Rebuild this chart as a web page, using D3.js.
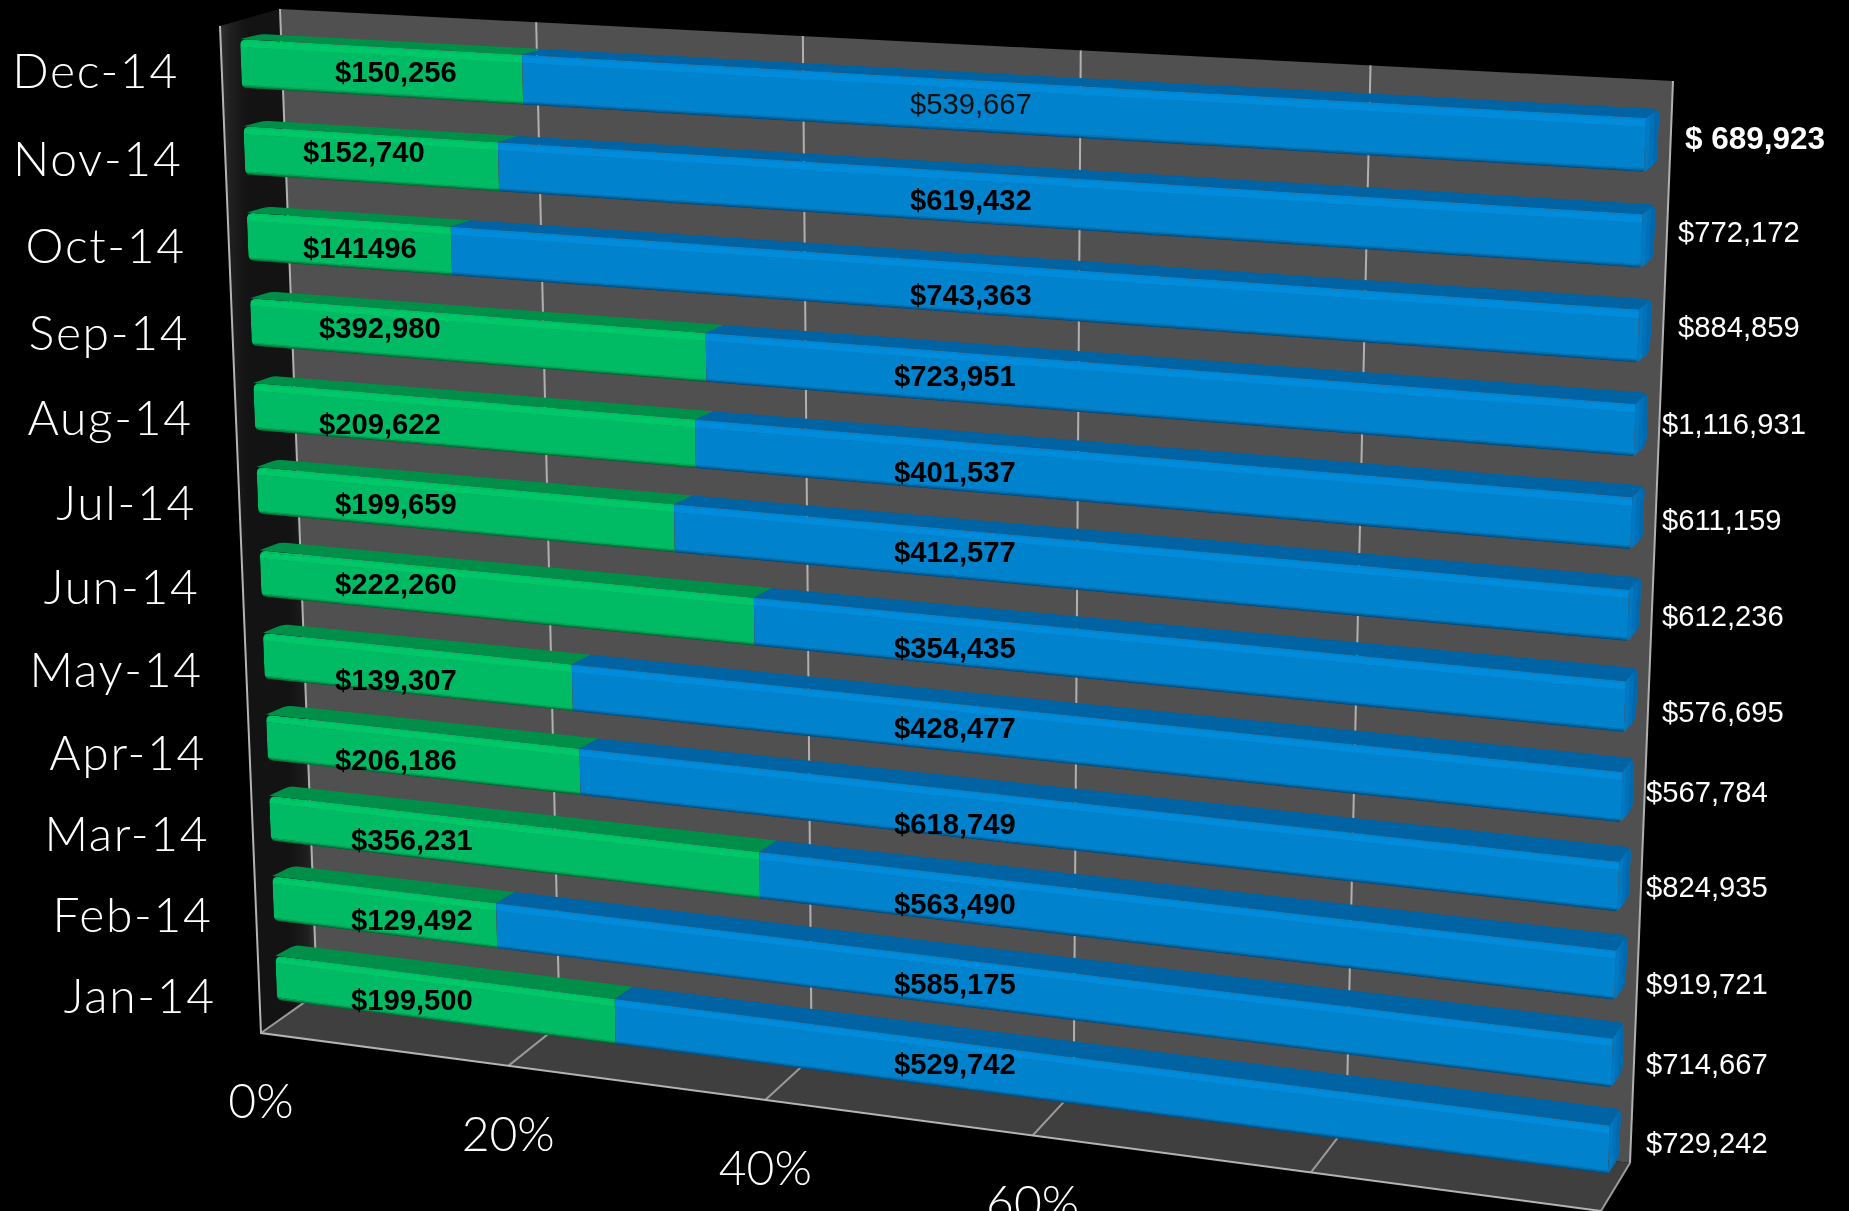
<!DOCTYPE html>
<html>
<head>
<meta charset="utf-8">
<title>Monthly split</title>
<script src="https://cdn.jsdelivr.net/npm/d3@7"></script>
<style>
    html, body { margin: 0; padding: 0; background: #000; overflow: hidden; }
    .category, .tick-label { font-family: "Lato", sans-serif; font-weight: 300; fill: #fff; }
    .value { font-family: "Liberation Sans", Arial, sans-serif; font-size: 29.2px; }
</style>
</head>
<body>
<div id="chart"></div>
<script>
// Values, top row first
const months = ["Dec-14", "Nov-14", "Oct-14", "Sep-14", "Aug-14", "Jul-14", "Jun-14", "May-14", "Apr-14", "Mar-14", "Feb-14", "Jan-14"];
const greenValues = [150256, 152740, 141496, 392980, 209622, 199659, 222260, 139307, 206186, 356231, 129492, 199500];
const blueValues = [539667, 619432, 743363, 723951, 401537, 412577, 354435, 428477, 618749, 563490, 585175, 529742];
const totalValues = [689923, 772172, 884859, 1116931, 611159, 612236, 576695, 567784, 824935, 919721, 714667, 729242];
const percentTicks = [0, 20, 40, 60];
const gridTicks = [0, 20, 40, 60, 80, 100];

// The value labels were hand placed in the original, so they sit on their own little layout
const greenLabelLeft = [335, 303, 303, 319, 319, 335, 335, 335, 335, 351, 351, 351];
const greenLabelY = [82, 162, 258, 338, 434, 514, 594, 690, 770, 850, 930, 1010];
const blueLabelLeft = [910, 910, 910, 894, 894, 894, 894, 894, 894, 894, 894, 894];
const blueLabelY = [114, 210, 305, 386, 482, 562, 658, 738, 834, 914, 994, 1074];
const totalLabelLeft = [1685, 1678, 1678, 1662, 1662, 1662, 1662, 1646, 1646, 1646, 1646, 1646];
const totalLabelY = [149, 242, 337, 434, 530, 626, 722, 802, 897, 994, 1074, 1153];

// Corners of the 3D box as they land on screen: [top left, top right, bottom right, bottom left]
const wallCorners = [[280, 9], [1673, 81], [1630, 1163], [317, 994]];
const floorCorners = [[317, 993.4], [1630, 1163], [1601, 1211], [261, 1033]];
const sideCorners = [[220, 26], [280, 9], [317, 994], [261, 1033]];
const barFrontCorners = [[240, 39], [1646, 118], [1608, 1174], [277, 1000]];
const barBackCorners = [[261, 34], [1659, 109], [1619, 1157], [297, 989]];

// Maps the unit square onto a four sided shape, so straight lines stay straight
function perspective(c) {
    let [x0, y0] = c[0], [x1, y1] = c[1], [x2, y2] = c[2], [x3, y3] = c[3];
    let dx1 = x1 - x2, dx2 = x3 - x2, sx = x0 - x1 + x2 - x3;
    let dy1 = y1 - y2, dy2 = y3 - y2, sy = y0 - y1 + y2 - y3;
    let det = dx1 * dy2 - dx2 * dy1;
    let g = (sx * dy2 - dx2 * sy) / det;
    let h = (dx1 * sy - sx * dy1) / det;
    let a = x1 - x0 + g * x1, b = x3 - x0 + h * x3;
    let d = y1 - y0 + g * y1, e = y3 - y0 + h * y3;
    return (u, v) => {
        let w = g * u + h * v + 1;
        return [(a * u + b * v + x0) / w, (d * u + e * v + y0) / w];
    };
}

function mix(p, q, t) {
    return [p[0] + (q[0] - p[0]) * t, p[1] + (q[1] - p[1]) * t];
}

// Closed path through the points, with each corner cut to its own radius
function rounded(points, radii) {
    let path = d3.path();
    points.forEach((p, i) => {
        let prev = points[(i + points.length - 1) % points.length];
        let next = points[(i + 1) % points.length];
        let r = radii[i];
        let a = mix(p, prev, r / Math.hypot(prev[0] - p[0], prev[1] - p[1]));
        let b = mix(p, next, r / Math.hypot(next[0] - p[0], next[1] - p[1]));
        if (i === 0) path.moveTo(a[0], a[1]); else path.lineTo(a[0], a[1]);
        path.quadraticCurveTo(p[0], p[1], b[0], b[1]);
    });
    path.closePath();
    return path.toString();
}

class BarChart3D {
    constructor(parentElement) {
        this.parentElement = parentElement;
        this.initVis();
    }

    initVis() {
        let vis = this;

        vis.width = 1849;
        vis.height = 1211;

        vis.svg = d3.select("#" + vis.parentElement).append("svg")
            .attr("width", vis.width)
            .attr("height", vis.height)
            .style("display", "block");

        vis.x = d3.scaleLinear().domain([0, 100]).range([0, 1]);
        vis.y = d3.scaleBand().domain(months).range([0, 1]).paddingInner(0.44).paddingOuter(0);

        vis.wall = perspective(wallCorners);
        vis.floor = perspective(floorCorners);
        vis.front = perspective(barFrontCorners);
        vis.back = perspective(barBackCorners);

        vis.line = d3.line();

        vis.defs = vis.svg.append("defs");
        let side = vis.defs.append("linearGradient").attr("id", "sideFill");
        [[0, "#303030"], [0.12, "#1e1e1e"], [0.28, "#131313"], [0.72, "#131313"], [0.9, "#1f1f1f"], [1, "#363636"]]
            .forEach(s => side.append("stop").attr("offset", s[0]).attr("stop-color", s[1]));
        vis.defs.append("filter").attr("id", "soft")
            .append("feGaussianBlur").attr("stdDeviation", 0.7);

        vis.wrangleData();
    }

    wrangleData() {
        let vis = this;

        vis.displayData = months.map((m, i) => ({month: m, green: greenValues[i], blue: blueValues[i]}));

        // Every bar is stretched to 100%
        vis.series = d3.stack()
            .keys(["green", "blue"])
            .offset(d3.stackOffsetExpand)(vis.displayData);

        vis.updateVis();
    }

    poly(points) {
        return this.line(points) + "Z";
    }

    updateVis() {
        let vis = this;

        // Box: back wall, floor, left side
        vis.svg.append("path").attr("d", vis.poly(wallCorners)).attr("fill", "#505050");
        vis.svg.append("path").attr("d", vis.poly(floorCorners)).attr("fill", "#3f3f3f");
        vis.svg.append("path").attr("d", vis.poly(sideCorners)).attr("fill", "url(#sideFill)");

        // Grid lines up the wall and across the floor
        vis.svg.selectAll(".wall-grid")
            .data(gridTicks)
            .enter().append("path")
            .attr("class", "wall-grid")
            .attr("d", d => vis.line([vis.wall(vis.x(d), 0), vis.wall(vis.x(d), 1)]))
            .attr("stroke", "#b0b0b0")
            .attr("stroke-width", 2)
            .attr("fill", "none");

        vis.svg.selectAll(".floor-grid")
            .data(gridTicks)
            .enter().append("path")
            .attr("class", "floor-grid")
            .attr("d", d => vis.line([vis.floor(vis.x(d), 0), vis.floor(vis.x(d), 1)]))
            .attr("stroke", "#9a9a9a")
            .attr("stroke-width", 2)
            .attr("fill", "none");

        // Outline of the box
        vis.svg.append("path")
            .attr("d", vis.line([sideCorners[0], sideCorners[3], floorCorners[2]]))
            .attr("stroke", "#b4b4b4").attr("stroke-width", 2).attr("fill", "none");

        vis.drawBars();
        vis.drawLabels();
    }

    drawBars() {
        let vis = this;

        let palette = {
            green: {
                top: "#008f4a",
                strips: [[0, 0.04, "#00c065"], [0.04, 0.16, "#00c768"], [0.16, 0.93, "#00bb64"], [0.93, 0.96, "#00a557"], [0.96, 0.985, "#007f43"], [0.985, 1, "#005f32"]]
            },
            blue: {
                top: "#0063a3",
                caps: ["#0079c3", "#0071b8", "#0069ad"],
                strips: [[0, 0.04, "#0086d2"], [0.04, 0.16, "#008cdb"], [0.16, 0.93, "#0082cd"], [0.93, 0.96, "#0072b4"], [0.96, 0.985, "#005c94"], [0.985, 1, "#004a78"]]
            }
        };

        let rows = vis.svg.append("g").attr("filter", "url(#soft)");

        vis.series.forEach(layer => {
            let colours = palette[layer.key];
            let isGreen = layer.key === "green";

            let segment = rows.selectAll(".seg-" + layer.key)
                .data(layer)
                .enter().append("g")
                .attr("class", "seg-" + layer.key);

            // Left and right point of one segment on a plane, t runs down the face of the bar
            let edge = (plane, d, t) => {
                let v = vis.y(d.data.month) + t * vis.y.bandwidth();
                return [plane(vis.x(d[0] * 100), v), plane(vis.x(d[1] * 100), v)];
            };
            let strip = (d, t0, t1) => {
                let a = edge(vis.front, d, t0), b = edge(vis.front, d, t1);
                return vis.poly([a[0], a[1], b[1], b[0]]);
            };

            // Top face, running back from the front edge
            segment.append("path")
                .attr("d", d => {
                    let a = edge(vis.front, d, 0), b = edge(vis.back, d, 0);
                    return rounded([a[0], a[1], b[1], b[0]], isGreen ? [0, 0, 0, 5] : [0, 0, 5, 0]);
                })
                .attr("fill", colours.top);

            // Only the blue end of the bar shows its rounded cap
            if (!isGreen) {
                colours.caps.forEach((fill, k) => {
                    segment.append("path")
                        .attr("d", d => {
                            let from = (k) / colours.caps.length;
                            let a = edge(vis.front, d, 0)[1], b = edge(vis.back, d, 0)[1];
                            let c = edge(vis.back, d, 1)[1], e = edge(vis.front, d, 1)[1];
                            return rounded([mix(a, b, from), b, c, mix(e, c, from)], [0, 6, 6, 2]);
                        })
                        .attr("fill", fill);
                });
            }

            // Front face: shaded strips cut to the rounded outline of the face
            let clipId = d => "clip-" + layer.key + "-" + months.indexOf(d.data.month);
            vis.defs.selectAll(".clip-" + layer.key)
                .data(layer)
                .enter().append("clipPath")
                .attr("class", "clip-" + layer.key)
                .attr("id", clipId)
                .append("path")
                .attr("d", d => {
                    let a = edge(vis.front, d, 0), b = edge(vis.front, d, 1);
                    return rounded([a[0], a[1], b[1], b[0]], isGreen ? [7, 0, 0, 6] : [0, 0, 3, 0]);
                });

            let face = segment.append("g").attr("clip-path", d => `url(#${clipId(d)})`);
            colours.strips.forEach(s => {
                // A touch past the next strip so no seam shows through
                face.append("path").attr("d", d => strip(d, s[0], Math.min(1, s[1] + 0.01))).attr("fill", s[2]);
            });
        });
    }

    drawLabels() {
        let vis = this;
        let money = d3.format("$,");

        // Month names follow the slanted left edge of the box
        vis.svg.selectAll(".category")
            .data(months)
            .enter().append("text")
            .attr("class", "category")
            .attr("text-anchor", "end")
            .attr("font-size", 48)
            .attr("letter-spacing", 1.7)
            .attr("x", (d, i) => vis.front(0, vis.y(d) + vis.y.bandwidth() / 2)[0] - 62 + i * 0.15)
            .attr("y", (d, i) => vis.front(0, vis.y(d) + vis.y.bandwidth() / 2)[1] + 25 + i * 0.9)
            .text(d => d);

        vis.svg.selectAll(".tick-label")
            .data(percentTicks)
            .enter().append("text")
            .attr("class", "tick-label")
            .attr("text-anchor", "middle")
            .attr("font-size", 48)
            .attr("x", d => vis.floor(vis.x(d), 1)[0])
            .attr("y", d => vis.floor(vis.x(d), 1)[1] + 85)
            .text(d => d + "%");

        // Green labels; one of them has no thousands comma in the original
        vis.svg.selectAll(".green-label")
            .data(greenValues)
            .enter().append("text")
            .attr("class", "value green-label")
            .attr("font-weight", "bold")
            .attr("fill", "#000")
            .attr("x", (d, i) => greenLabelLeft[i])
            .attr("y", (d, i) => greenLabelY[i])
            .text((d, i) => i === 2 ? "$" + d : money(d));

        // First blue label is the only one that is not bold
        vis.svg.selectAll(".blue-label")
            .data(blueValues)
            .enter().append("text")
            .attr("class", "value blue-label")
            .attr("font-weight", (d, i) => i === 0 ? "normal" : "bold")
            .attr("fill", (d, i) => i === 0 ? "#111" : "#000")
            .attr("x", (d, i) => blueLabelLeft[i])
            .attr("y", (d, i) => blueLabelY[i])
            .text(d => money(d));

        // Totals to the right of the box, the latest month stands out
        vis.svg.selectAll(".total-label")
            .data(totalValues)
            .enter().append("text")
            .attr("class", "value total-label")
            .attr("font-weight", (d, i) => i === 0 ? "bold" : "normal")
            .style("font-size", (d, i) => i === 0 ? "31.5px" : null)
            .attr("fill", "#fff")
            .attr("x", (d, i) => totalLabelLeft[i])
            .attr("y", (d, i) => totalLabelY[i])
            .text((d, i) => i === 0 ? "$ " + d3.format(",")(d) : money(d));
    }
}

new BarChart3D("chart");
</script>
</body>
</html>
